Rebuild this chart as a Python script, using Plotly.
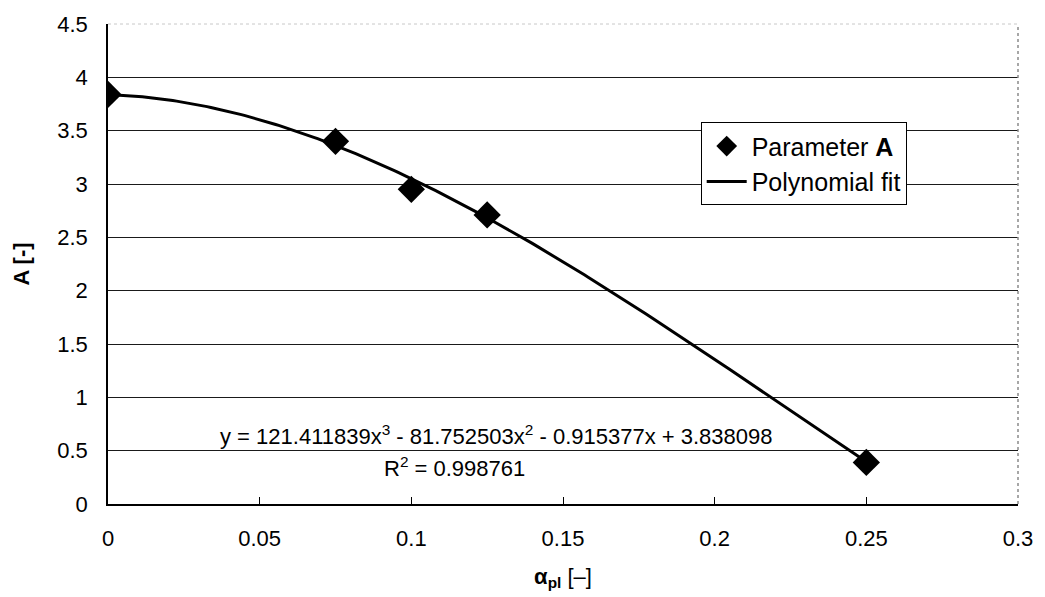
import numpy as np
import plotly.graph_objects as go

# Measured values of parameter A against alpha_pl
alpha_pl = [0.0, 0.075, 0.1, 0.125, 0.25]
param_a = [3.84, 3.40, 2.95, 2.71, 0.39]

# Third-order polynomial fit coefficients (highest power first)
fit_coeffs = [121.411839, -81.752503, -0.915377, 3.838098]
r_squared = 0.998761

x_ticks = [0, 0.05, 0.1, 0.15, 0.2, 0.25, 0.3]
x_tick_text = ["0", "0.05", "0.1", "0.15", "0.2", "0.25", "0.3"]
y_ticks = [0, 0.5, 1, 1.5, 2, 2.5, 3, 3.5, 4, 4.5]
y_tick_text = ["0", "0.5", "1", "1.5", "2", "2.5", "3", "3.5", "4", "4.5"]

FONT = "Liberation Sans, Arial, sans-serif"

x_fit = np.linspace(min(alpha_pl), max(alpha_pl), 200)
y_fit = np.polyval(fit_coeffs, x_fit)

fig = go.Figure()

fig.add_trace(go.Scatter(
    x=x_fit, y=y_fit, mode="lines", name="Polynomial fit",
    line=dict(color="black", width=3), legendrank=2,
))
fig.add_trace(go.Scatter(
    x=alpha_pl, y=param_a, mode="markers", name="Parameter <b>A</b>",
    marker=dict(symbol="diamond", size=21, color="black"), legendrank=1,
))

eq_text = (
    f"y = {fit_coeffs[0]:.6f}x<sup>3</sup> - {abs(fit_coeffs[1]):.6f}x<sup>2</sup>"
    f" - {abs(fit_coeffs[2]):.6f}x + {fit_coeffs[3]:.6f}"
)
fig.add_annotation(
    x=(497 - 108) / 912, y=(504 - 434) / 488, xref="paper", yref="paper",
    text=eq_text, showarrow=False, font=dict(family=FONT, size=22, color="black"),
    xanchor="center", yanchor="middle",
)
fig.add_annotation(
    x=(455 - 108) / 912, y=(504 - 466) / 488, xref="paper", yref="paper",
    text=f"R<sup>2</sup> = {r_squared:.6f}", showarrow=False,
    font=dict(family=FONT, size=22, color="black"),
    xanchor="center", yanchor="middle",
)

# Light dotted top and right frame edges
fig.add_shape(type="line", xref="paper", yref="paper", x0=0, x1=1, y0=1, y1=1,
              line=dict(color="white", width=3), layer="above")
fig.add_shape(type="line", xref="paper", yref="paper", x0=0, x1=1, y0=1, y1=1,
              line=dict(color="#c8c8c8", width=1, dash="dot"), layer="above")
fig.add_shape(type="line", xref="paper", yref="paper", x0=1, x1=1, y0=0, y1=1,
              line=dict(color="#8a8a8a", width=1.5, dash="dot"), layer="above")

fig.update_layout(
    width=1045, height=597,
    margin=dict(l=108, r=25, t=16, b=93),
    paper_bgcolor="white", plot_bgcolor="white",
    font=dict(family=FONT, size=22, color="black"),
    showlegend=True,
    legend=dict(
        x=(702 - 108) / 912, y=(504 - 116) / 488, xanchor="left", yanchor="top",
        bgcolor="white", bordercolor="black", borderwidth=1,
        font=dict(family=FONT, size=25, color="black"),
        tracegroupgap=0, itemwidth=40,
    ),
    xaxis=dict(
        range=[0, 0.3], tickvals=x_ticks, ticktext=x_tick_text,
        showgrid=False, zeroline=False, showline=True, linecolor="black", linewidth=1.5,
        ticks="inside", ticklen=7, tickcolor="black", tickwidth=1,
        ticklabelstandoff=14,
        tickfont=dict(family=FONT, size=22, color="black"),
        title=dict(text="<b>α<sub>pl</sub></b> [–]", standoff=18,
                   font=dict(family=FONT, size=22, color="black")),
    ),
    yaxis=dict(
        range=[0, 4.5], tickvals=y_ticks, ticktext=y_tick_text,
        showgrid=True, gridcolor="#1a1a1a", gridwidth=1.2,
        zeroline=False, showline=True, linecolor="black", linewidth=1.5,
        ticks="", ticklabelstandoff=14,
        tickfont=dict(family=FONT, size=22, color="black"),
        title=dict(text="<b>A [-]</b>", standoff=22,
                   font=dict(family=FONT, size=22, color="black")),
    ),
)

fig.write_html("out.html")
